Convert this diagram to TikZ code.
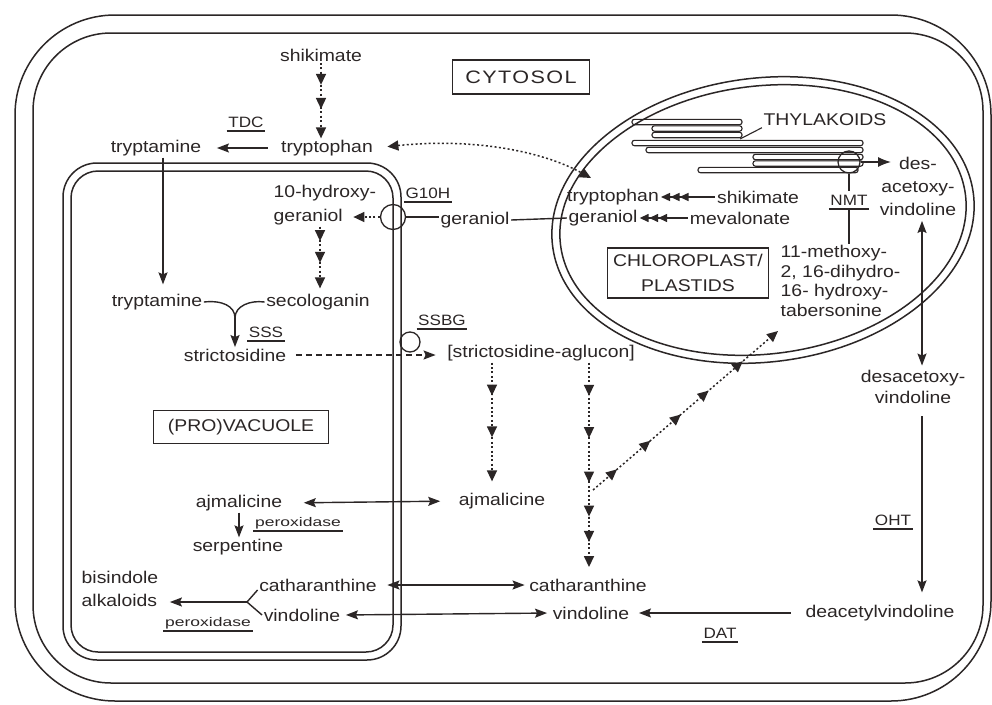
\documentclass[tikz,border=0pt]{standalone}
\usepackage{fontspec}
\setmainfont{Liberation Sans}[FakeStretch=1.14]
\newfontfamily\widefont{Liberation Sans}[FakeStretch=1.4]
\newfontfamily\spacedfont{Liberation Sans}[FakeStretch=1.2,LetterSpace=8]
\usetikzlibrary{arrows.meta,decorations.markings,calc}
\definecolor{ink}{HTML}{2B2626}
\tikzset{
  hd/.tip={Triangle[length=11pt,width=10pt]},
  sh/.tip={Stealth[length=12pt,width=9pt,inset=2pt]},
  th/.tip={Triangle[length=9pt,width=8pt]}
}
\begin{document}
\begin{tikzpicture}[x=1pt,y=-1pt,color=ink,line width=1.4pt,
  lbl/.style={font=\fontsize{17}{20}\selectfont,inner sep=1pt},
  enz/.style={font=\fontsize{15}{18}\selectfont,inner xsep=1pt,inner ysep=3pt,
    append after command={\pgfextra{\draw[line width=1.4pt] (\tikzlastnode.south west) -- (\tikzlastnode.south east);}}},
  px/.style={font=\widefont\fontsize{12.5}{15}\selectfont,inner xsep=1pt,inner ysep=1.5pt,
    append after command={\pgfextra{\draw[line width=1.4pt] (\tikzlastnode.south west) -- (\tikzlastnode.south east);}}},
  box/.style={draw,line width=1.4pt,inner sep=0pt,align=center,font=\fontsize{17}{25}\selectfont},
  mem/.style={draw,line width=1.5pt},
  ring/.style={circle,draw,line width=1.3pt,inner sep=0pt},
  arr/.style={-{sh}},
  darr/.style={{sh}-{sh}},
  dotl/.style={line width=1.5pt,dash pattern=on 2pt off 2.4pt},
  dashl/.style={line width=1.4pt,dash pattern=on 6pt off 4pt},
  triple/.style={{th[sep=0.5pt]th[sep=0.5pt]th}-},
  bigtip/.style={-{Latex[length=13pt,width=10pt]}}
]
\useasboundingbox (0,0) rectangle (992,704);
\clip (0,0) rectangle (992,704);
\fill[white] (0,0) rectangle (992,704);

% cell membranes
\draw[mem,rounded corners=100pt] (15,15) rectangle (991,701);
\draw[mem,rounded corners=78pt] (33,33) rectangle (983,683);
% vacuole membranes
\draw[mem,rounded corners=34pt] (63,163) rectangle (401,660);
\draw[mem,rounded corners=27pt] (71,171) rectangle (393,652);
% chloroplast
\begin{scope}[shift={(763,220)},rotate=7]
  \draw[mem] (0,0) ellipse [x radius=212pt,y radius=142pt];
  \draw[mem] (0,0) ellipse [x radius=204pt,y radius=134pt];
\end{scope}
% thylakoids
\foreach \a/\b/\c in {632/742/122,652/742/128.5,652/742/135,632/863/143,646/863/150,753/863/157,753/863/163.5,698/858/170}
  \draw[line width=1.1pt,rounded corners=2.4pt] (\a,\c-2.7) rectangle (\b,\c+2.7);

% ---------- nodes ----------
\node[lbl] (shik1) at (321,55) {shikimate};
\node[lbl] (tryp1) at (327,148) {tryptophan};
\node[lbl] (tryam1) at (156,148) {tryptamine};
\node[enz] (tdc) at (246,122) {TDC};
\node[box,font=\spacedfont\fontsize{18}{22}\selectfont,minimum width=137pt,minimum height=34pt] (cyt) at (521,77) {CYTOSOL};
\node[lbl,anchor=west] (hyd) at (272,193) {10-hydroxy-};
\node[lbl,anchor=west] (hger) at (272,217) {geraniol};
\node[ring,minimum size=25pt] (g10h) at (393,217) {};
\node[enz] (g10hl) at (428,193) {G10H};
\node[lbl] (ger1) at (475,220) {geraniol};
\node[lbl] (tryam2) at (157,302) {tryptamine};
\node[lbl] (seco) at (318,302) {secologanin};
\node[enz] (sss) at (266,332) {SSS};
\node[lbl] (strict) at (235,355) {strictosidine};
\node[ring,minimum size=20pt] (ssbg) at (410,342) {};
\node[enz] (ssbgl) at (442,320) {SSBG};
\node[lbl] (aglu) at (541,353) {[strictosidine-aglucon]};
\node[box,minimum width=175pt,minimum height=33pt] (vac) at (241,427) {(PRO)VACUOLE};
\node[lbl] (ajm1) at (239,503) {ajmalicine};
\node[lbl] (ajm2) at (502,501) {ajmalicine};
\node[px] (px1) at (298,523) {peroxidase};
\node[lbl] (serp) at (238,547) {serpentine};
\node[lbl] (cath1) at (318,585) {catharanthine};
\node[lbl] (vind1) at (302,615) {vindoline};
\node[lbl,align=left,anchor=west,font=\fontsize{17}{23}\selectfont] (bis) at (80,589) {bisindole\\alkaloids};
\node[px] (px2) at (208,623) {peroxidase};
\node[lbl] (cath2) at (588,585) {catharanthine};
\node[lbl] (vind2) at (591,613) {vindoline};
\node[lbl] (deac) at (880,613) {deacetylvindoline};
\node[enz] (dat) at (720,633) {DAT};
\node[enz] (oht) at (893,520) {OHT};
\node[lbl,align=center,font=\fontsize{17}{21}\selectfont] (desac2) at (913,387) {desacetoxy-\\vindoline};
\node[lbl,align=center,font=\fontsize{17}{23}\selectfont] (desac1) at (918,186) {des-\\acetoxy-\\vindoline};
\node[lbl] (tryp2) at (613,197) {tryptophan};
\node[lbl] (shik2) at (758,197) {shikimate};
\node[lbl] (ger2) at (603,218) {geraniol};
\node[lbl] (meval) at (740,218) {mevalonate};
\node[box,minimum width=161pt,minimum height=50pt] (chl) at (688,273) {CHLOROPLAST/\\PLASTIDS};
\node[lbl,align=left,anchor=west,font=\fontsize{17}{19.5}\selectfont] (tab) at (779,281) {11-methoxy-\\2, 16-dihydro-\\16- hydroxy-\\tabersonine};
\node[ring,minimum size=22pt] (nmt) at (849,162) {};
\node[enz] (nmtl) at (849,200) {NMT};
\node[lbl] (thy) at (825,120) {THYLAKOIDS};

% ---------- helper coordinates ----------
\coordinate (ta) at ([xshift=7pt]tryam1.south);
\coordinate (mrg) at (235,318);
\coordinate (hc) at (320,0);
\coordinate (tt) at (591,178);
\coordinate (desin) at (891,162);
\coordinate (thyp) at (740,139);
\coordinate (dx) at (922,0);
\coordinate (fk) at (247,602);
\coordinate (k1) at (492,0);
\coordinate (k2) at (589,0);
\coordinate (ds) at (593,490);
\coordinate (de) at (778,331);

% ---------- connectors ----------
% shikimate -> tryptophan (cytosol)
\draw[dotl,-{hd},postaction={decorate},decoration={markings,
  mark=at position 0.29 with {\arrow{hd}},mark=at position 0.61 with {\arrow{hd}}}]
  (shik1.south) -- (shik1.south |- tryp1.north);
% TDC
\draw[arr,shorten <=12pt,shorten >=14pt] (tryp1) -- (tryam1);
% tryptamine into vacuole
\draw[arr,shorten >=8pt] (ta) -- (ta |- tryam2.north);
% condensation
\draw (tryam2.east) .. controls (222,300) and (235,306) .. (mrg);
\draw (seco.west) .. controls (250,300) and (235,306) .. (mrg);
\draw[arr] (mrg) -- (mrg |- strict.north);
% strictosidine -> aglucon
\draw[dashl,arr,shorten <=8pt,shorten >=10pt] (strict.east) -- (strict.east -| aglu.west);
% G10H
\draw[dotl,-{hd},shorten >=9pt] (g10h.west) -- (g10h.west -| hger.east);
\draw (g10h.east) -- (g10h.east -| ger1.west);
% 10-hydroxygeraniol -> secologanin
\draw[dotl,-{hd},shorten >=4pt,postaction={decorate},decoration={markings,
  mark=at position 0.22 with {\arrow{hd}},mark=at position 0.55 with {\arrow{hd}}}]
  (hc |- hger.south) -- (hc |- seco.north);
% geraniol transport
\draw (ger1.east) -- (ger2.west);
% tryptophan exchange
\draw[dotl,{hd}-{hd},shorten <=13pt] (tryp1.east) .. controls (470,138) and (540,150) .. (tt);
% chloroplast reactions
\draw[triple] (tryp2.east) -- (shik2.west);
\draw[triple] (ger2.east) -- (meval.west);
% thylakoid pointer
\draw[line width=1.1pt] (thyp) -- (thy.south west);
% NMT
\draw[bigtip] (nmt.east) -- (desin);
\draw (nmt.south) -- (nmtl.north);
\draw (nmtl.south) -- (nmtl.south |- tab.north);
% desacetoxyvindoline transport
\draw[darr,shorten <=4pt,shorten >=3pt] (dx |- desac1.south) -- (dx |- desac2.north);
% OHT
\draw[arr,shorten <=11pt,shorten >=11pt] (dx |- desac2.south) -- (dx |- deac.north);
% DAT
\draw[arr,shorten <=13pt,shorten >=8pt] (deac.west) -- (vind2.east);
% transport across tonoplast
\draw[darr,shorten <=4pt,shorten >=4pt] (vind1.east) -- (vind2.west);
\draw[darr,shorten <=9pt,shorten >=3pt] (cath1.east) -- (cath2.west);
\draw[darr,shorten <=20pt,shorten >=17pt] (ajm1.east) -- (ajm2.west);
% ajmalicine -> serpentine
\draw[arr] (ajm1.south) -- (ajm1.south |- serp.north);
% bisindole alkaloids
\draw ([yshift=-5pt]cath1.west) -- (fk) -- (vind1.west);
\draw[arr,shorten >=10pt] (fk) -- (fk -| bis.east);
% aglucon -> ajmalicine
\draw[dotl,-{hd},shorten >=10pt,postaction={decorate},decoration={markings,
  mark=at position 0.256 with {\arrow{hd}},mark=at position 0.58 with {\arrow{hd}}}]
  (k1 |- aglu.south) -- (k1 |- ajm2.north);
% aglucon -> catharanthine
\draw[dotl,-{hd},shorten >=10pt,postaction={decorate},decoration={markings,
  mark=at position 0.155 with {\arrow{hd}},mark=at position 0.352 with {\arrow{hd}},
  mark=at position 0.559 with {\arrow{hd}},mark=at position 0.718 with {\arrow{hd}},
  mark=at position 0.836 with {\arrow{hd}}}]
  (k2 |- aglu.south) -- (k2 |- cath2.north);
% to tabersonine
\draw[dotl,-{hd},postaction={decorate},decoration={markings,
  mark=at position 0.13 with {\arrow{hd}},mark=at position 0.31 with {\arrow{hd}},
  mark=at position 0.475 with {\arrow{hd}},mark=at position 0.625 with {\arrow{hd}},
  mark=at position 0.81 with {\arrow{hd}}}]
  (ds) -- (de);
\end{tikzpicture}
\end{document}
